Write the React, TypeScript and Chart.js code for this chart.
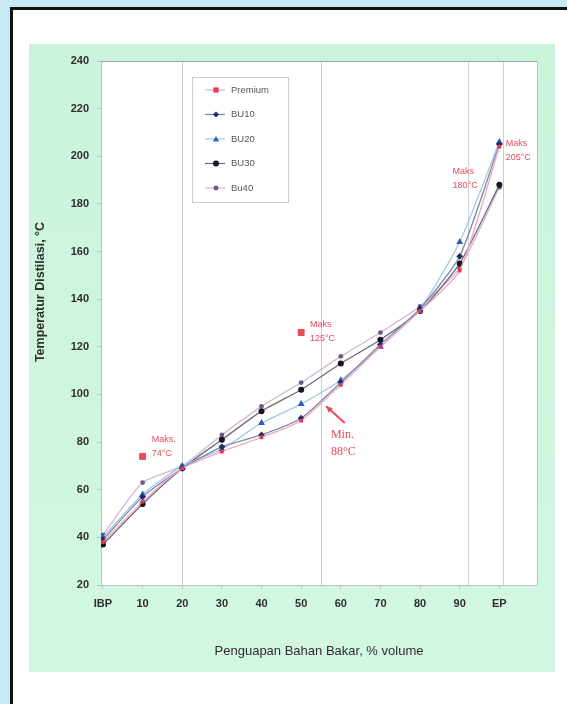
import React, { useEffect, useRef } from "react";
import { Chart, registerables } from "chart.js";

Chart.register(...registerables);

// ---- data ----
const xValues = [0, 10, 20, 30, 40, 50, 60, 70, 80, 90, 100];
const xTickLabels = ["IBP", "10", "20", "30", "40", "50", "60", "70", "80", "90", "EP"];
const yTicks = [20, 40, 60, 80, 100, 120, 140, 160, 180, 200, 220, 240];

const premium = [38, 55, 69, 76, 82, 89, 104, 120, 135, 152, 204];
const bu10 = [39, 57, 69, 78, 83, 90, 105, 121, 136, 158, 205];
const bu20 = [40, 58, 70, 77, 88, 96, 106, 120, 136, 164, 206];
const bu30 = [37, 54, 69, 81, 93, 102, 113, 123, 135, 155, 188];
const bu40 = [41, 63, 70, 83, 95, 105, 116, 126, 137, 153, 187];

const limitX = [10, 50];
const limitY = [74, 126];

const refLines = [20, 55, 92, 101];

const annotationTexts = [
  { x: 12.3, y: 81, lines: ["Maks.", "74°C"], serif: false },
  { x: 52.2, y: 129.5, lines: ["Maks", "125°C"], serif: false },
  { x: 88.2, y: 193.5, lines: ["Maks", "180°C"], serif: false },
  { x: 101.6, y: 205.5, lines: ["Maks", "205°C"], serif: false },
  { x: 57.5, y: 83, lines: ["Min.", "88°C"], serif: true },
];
const arrowFrom = { x: 61, y: 88 };
const arrowTo = { x: 56.3, y: 95 };

const SANS = '"Liberation Sans", Arial, sans-serif';
const SERIF = '"Liberation Serif", "Times New Roman", serif';
const RED = "#e84a5a";

const seriesStyles = [
  { label: "Premium", data: premium, line: "#f2aabb", fill: "#e03a55", style: "rect", r: 2.6 },
  { label: "BU10", data: bu10, line: "#7a88a8", fill: "#1f2d6a", style: "rectRot", r: 3.4 },
  { label: "BU20", data: bu20, line: "#a2c4ea", fill: "#2d5db8", style: "triangle", r: 4 },
  { label: "BU30", data: bu30, line: "#6c6c7c", fill: "#141422", style: "circle", r: 3 },
  { label: "Bu40", data: bu40, line: "#d6b4d6", fill: "#6a5a82", style: "circle", r: 2.4 },
];

function drawMarker(ctx: CanvasRenderingContext2D, style: string, x: number, y: number, r: number, color: string) {
  ctx.save();
  ctx.fillStyle = color;
  ctx.beginPath();
  if (style === "rect") {
    ctx.rect(x - r, y - r, 2 * r, 2 * r);
  } else if (style === "rectRot") {
    ctx.moveTo(x, y - r);
    ctx.lineTo(x + r, y);
    ctx.lineTo(x, y + r);
    ctx.lineTo(x - r, y);
    ctx.closePath();
  } else if (style === "triangle") {
    ctx.moveTo(x, y - r);
    ctx.lineTo(x + r, y + r * 0.8);
    ctx.lineTo(x - r, y + r * 0.8);
    ctx.closePath();
  } else {
    ctx.arc(x, y, r, 0, Math.PI * 2);
  }
  ctx.fill();
  ctx.restore();
}

const decorPlugin = {
  id: "decor",
  beforeDraw(chart: any) {
    const { ctx, chartArea: a } = chart;
    ctx.save();
    ctx.fillStyle = "#ffffff";
    ctx.fillRect(a.left, a.top, a.right - a.left, a.bottom - a.top);
    ctx.restore();
  },
  beforeDatasetsDraw(chart: any) {
    const { ctx, chartArea: a, scales } = chart;
    ctx.save();
    ctx.strokeStyle = "#c6d0da";
    ctx.lineWidth = 1;
    refLines.forEach((v) => {
      const px = Math.round(scales.x.getPixelForValue(v)) + 0.5;
      ctx.beginPath();
      ctx.moveTo(px, a.top);
      ctx.lineTo(px, a.bottom);
      ctx.stroke();
    });
    ctx.strokeStyle = "#b9c2c6";
    ctx.strokeRect(Math.round(a.left) + 0.5, Math.round(a.top) + 0.5, Math.round(a.right - a.left), Math.round(a.bottom - a.top));
    ctx.strokeStyle = "#9aa8a8";
    ctx.beginPath();
    ctx.moveTo(a.left, Math.round(a.top) + 0.5);
    ctx.lineTo(a.right, Math.round(a.top) + 0.5);
    ctx.stroke();
    ctx.restore();
  },
  afterDraw(chart: any) {
    const { ctx, chartArea: a, scales } = chart;
    const sx = scales.x, sy = scales.y;
    ctx.save();
    ctx.translate(12, 248);
    ctx.rotate(-Math.PI / 2);
    ctx.fillStyle = "#2e2e2e";
    ctx.font = `bold 12.5px ${SANS}`;
    ctx.textAlign = "center";
    ctx.textBaseline = "middle";
    ctx.fillText("Temperatur Distilasi, °C", 0, 0);
    ctx.restore();

    ctx.save();
    ctx.fillStyle = RED;
    ctx.textBaseline = "middle";
    ctx.textAlign = "left";
    annotationTexts.forEach((t) => {
      const px = sx.getPixelForValue(t.x);
      const py = sy.getPixelForValue(t.y);
      const size = t.serif ? 12 : 9;
      ctx.font = `${size}px ${t.serif ? SERIF : SANS}`;
      const lh = t.serif ? 17 : 14;
      t.lines.forEach((ln, i) => ctx.fillText(ln, px, py + i * lh));
    });
    const x1 = sx.getPixelForValue(arrowFrom.x), y1 = sy.getPixelForValue(arrowFrom.y);
    const x2 = sx.getPixelForValue(arrowTo.x), y2 = sy.getPixelForValue(arrowTo.y);
    ctx.strokeStyle = RED;
    ctx.lineWidth = 2;
    ctx.beginPath();
    ctx.moveTo(x1, y1);
    ctx.lineTo(x2, y2);
    ctx.stroke();
    const ang = Math.atan2(y2 - y1, x2 - x1);
    ctx.beginPath();
    ctx.moveTo(x2, y2);
    ctx.lineTo(x2 - 7 * Math.cos(ang - 0.45), y2 - 7 * Math.sin(ang - 0.45));
    ctx.lineTo(x2 - 7 * Math.cos(ang + 0.45), y2 - 7 * Math.sin(ang + 0.45));
    ctx.closePath();
    ctx.fill();
    ctx.restore();

    ctx.save();
    const lx = a.left + 91, ly = a.top + 16, lw = 96, lhgt = 125;
    ctx.fillStyle = "#ffffff";
    ctx.fillRect(lx, ly, lw, lhgt);
    ctx.strokeStyle = "#c8cccc";
    ctx.lineWidth = 1;
    ctx.strokeRect(Math.round(lx) + 0.5, Math.round(ly) + 0.5, lw, lhgt);
    ctx.font = `9.5px ${SANS}`;
    ctx.textBaseline = "middle";
    ctx.textAlign = "left";
    seriesStyles.forEach((s, i) => {
      const cy = ly + 13 + i * 24.5;
      const mx = lx + 24;
      ctx.strokeStyle = s.line;
      ctx.lineWidth = 1.2;
      ctx.beginPath();
      ctx.moveTo(mx - 11, cy);
      ctx.lineTo(mx + 9, cy);
      ctx.stroke();
      drawMarker(ctx, s.style, mx, cy, Math.min(s.r, 3), s.fill);
      ctx.fillStyle = "#555";
      ctx.fillText(s.label, lx + 39, cy);
    });
    ctx.restore();
  },
};

export default function App() {
  const canvasRef = useRef<HTMLCanvasElement | null>(null);

  useEffect(() => {
    const canvas = canvasRef.current;
    if (!canvas) return;
    const datasets: any[] = seriesStyles.map((s) => ({
      label: s.label,
      data: xValues.map((x, i) => ({ x, y: s.data[i] })),
      borderColor: s.line,
      borderWidth: 1.3,
      backgroundColor: s.fill,
      pointBackgroundColor: s.fill,
      pointBorderColor: s.fill,
      pointBorderWidth: 0,
      pointStyle: s.style,
      pointRadius: s.r,
      tension: 0.2,
      showLine: true,
    }));
    datasets.push({
      label: "Batas",
      data: limitX.map((x, i) => ({ x, y: limitY[i] })),
      showLine: false,
      pointStyle: "rect",
      pointRadius: 4.2,
      pointBackgroundColor: RED,
      pointBorderColor: RED,
      backgroundColor: RED,
    });

    const chart = new Chart(canvas, {
      type: "scatter",
      data: { datasets },
      plugins: [decorPlugin],
      options: {
        animation: false,
        responsive: false,
        devicePixelRatio: 1,
        layout: { padding: { left: 0, top: 17, right: 18, bottom: 10 } },
        plugins: { legend: { display: false }, tooltip: { enabled: false } },
        scales: {
          x: {
            type: "linear",
            min: -0.5,
            max: 109.5,
            afterBuildTicks: (scale: any) => {
              scale.ticks = xValues.map((v) => ({ value: v }));
            },
            afterFit: (scale: any) => {
              scale.height = 77;
            },
            border: { display: false },
            grid: { drawOnChartArea: false, drawTicks: true, tickLength: 4, color: "#b9c2c6" },
            ticks: {
              padding: 8,
              color: "#2e2e2e",
              font: { family: SANS, size: 11, weight: "bold" },
              callback: (v: any) => {
                const i = xValues.indexOf(Number(v));
                return i >= 0 ? xTickLabels[i] : "";
              },
              maxRotation: 0,
              autoSkip: false,
            },
            title: {
              display: true,
              text: "Penguapan Bahan Bakar, % volume",
              color: "#2e2e2e",
              font: { family: SANS, size: 13 },
              padding: { top: 0, bottom: 3 },
            },
          },
          y: {
            type: "linear",
            min: 20,
            max: 240,
            afterBuildTicks: (scale: any) => {
              scale.ticks = yTicks.map((v) => ({ value: v }));
            },
            afterFit: (scale: any) => {
              scale.width = 72;
            },
            border: { display: false },
            grid: { drawOnChartArea: false, drawTicks: true, tickLength: 4, color: "#b9c2c6" },
            ticks: {
              padding: 8,
              color: "#2e2e2e",
              font: { family: SANS, size: 11, weight: "bold" },
            },
          },
        },
      } as any,
    });
    return () => chart.destroy();
  }, []);

  return (
    <div style={{ position: "fixed", left: 0, top: 0, width: 567, height: 704, background: "#c7e8f6", overflow: "hidden" }}>
      <div
        style={{
          position: "absolute",
          left: 10,
          top: 7,
          width: 600,
          height: 760,
          background: "#ffffff",
          borderLeft: "3px solid #111",
          borderTop: "3px solid #111",
        }}
      />
      <div
        style={{
          position: "absolute",
          left: 29,
          top: 44,
          width: 526,
          height: 628,
          background: "linear-gradient(180deg, #cbf3dc 0%, #d3f7e2 100%)",
        }}
      >
        <canvas ref={canvasRef} width={526} height={628} style={{ display: "block", width: 526, height: 628 }} />
      </div>
    </div>
  );
}
